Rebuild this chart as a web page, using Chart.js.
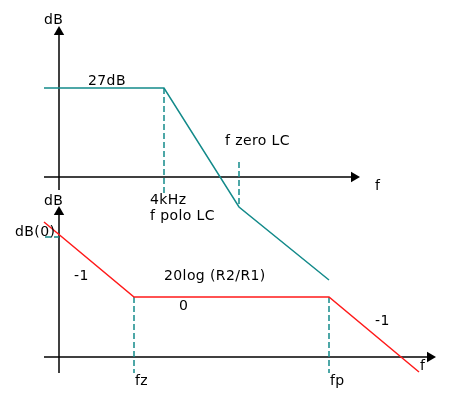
<!DOCTYPE html>
<html lang="en">
<head>
    <meta charset="UTF-8">
    <title>Bode</title>
    <script src="https://cdn.jsdelivr.net/npm/chart.js@4"></script>
    <style>
        html, body { margin: 0; padding: 0; background: #fff; }
        #wrap { width: 449px; height: 404px; }
    </style>
</head>
<body>
    <div id="wrap"><canvas id="myChart" width="449" height="404"></canvas></div>
    <script>
        // diagram units (x to the right, y downwards)
        const topGainX = [44, 164, 239, 329];
        const topGainY = [88, 88, 207, 280];
        const bottomGainX = [44, 134, 329, 419];
        const bottomGainY = [222, 297, 297, 372];

        // axes: [x1, y1, x2, y2]
        const axisLines = [
            [59, 190, 59, 30],
            [44, 177, 352, 177],
            [59, 373, 59, 210],
            [44, 357, 428, 357]
        ];
        // arrow tips + rotation
        const arrowX = [59, 354, 59, 430];
        const arrowY = [32, 177, 212, 357];
        const arrowRot = [0, 90, 0, 90];

        // dashed guides: [x1, y1, x2, y2]
        const guideLines = [
            [164, 88, 164, 196],
            [239, 162, 239, 207],
            [134, 297, 134, 373],
            [329, 297, 329, 373],
            [45, 237, 59, 237]
        ];

        const labelText = ['dB', '27dB', 'f zero LC', 'f', '4kHz', 'f polo LC', 'dB', 'dB(0)', '-1', '20log (R2/R1)', '0', '-1', 'fz', 'fp', 'f'];
        const labelX = [44, 88, 225, 375, 150, 150, 44, 15, 74, 164, 179, 375, 135, 330, 420];
        const labelY = [20, 81, 141, 186, 200, 216, 201, 232, 276, 276, 306, 321, 381, 381, 366];

        const teal = '#138a8a';
        const datasets = [];

        datasets.push({
            data: topGainX.map((x, i) => ({ x: x, y: topGainY[i] })),
            showLine: true, borderColor: teal, borderWidth: 1.5, pointRadius: 0
        });
        datasets.push({
            data: bottomGainX.map((x, i) => ({ x: x, y: bottomGainY[i] })),
            showLine: true, borderColor: '#ff1a1a', borderWidth: 1.5, pointRadius: 0
        });
        guideLines.forEach(g => {
            datasets.push({
                data: [{ x: g[0], y: g[1] }, { x: g[2], y: g[3] }],
                showLine: true, borderColor: teal, borderWidth: 1.5, borderDash: [6, 3], pointRadius: 0
            });
        });
        axisLines.forEach(a => {
            datasets.push({
                data: [{ x: a[0], y: a[1] }, { x: a[2], y: a[3] }],
                showLine: true, borderColor: '#000', borderWidth: 1.5, pointRadius: 0
            });
        });
        datasets.push({
            data: arrowX.map((x, i) => ({ x: x, y: arrowY[i] })),
            showLine: false, pointStyle: 'triangle', pointRadius: 6,
            rotation: arrowRot, backgroundColor: '#000', borderColor: '#000', borderWidth: 0
        });

        // texts placed through the scales
        const labelPlugin = {
            id: 'labels',
            afterDatasetsDraw(chart) {
                const ctx = chart.ctx;
                const sx = chart.scales.x, sy = chart.scales.y;
                ctx.save();
                ctx.fillStyle = '#000';
                ctx.font = '14px "DejaVu Sans"';
                ctx.letterSpacing = '0.4px';
                ctx.textBaseline = 'middle';
                ctx.textAlign = 'left';
                labelText.forEach((t, i) => {
                    ctx.fillText(t, sx.getPixelForValue(labelX[i]), sy.getPixelForValue(labelY[i]));
                });
                ctx.restore();
            }
        };

        new Chart(document.getElementById('myChart'), {
            type: 'scatter',
            data: { datasets: datasets },
            options: {
                responsive: false,
                animation: false,
                layout: { padding: 0, autoPadding: false },
                plugins: { legend: { display: false }, tooltip: { enabled: false } },
                elements: { line: { tension: 0 } },
                scales: {
                    x: { type: 'linear', min: 0, max: 449, display: false },
                    y: { type: 'linear', min: 0, max: 404, reverse: true, display: false }
                }
            },
            plugins: [labelPlugin]
        });
    </script>
</body>
</html>
